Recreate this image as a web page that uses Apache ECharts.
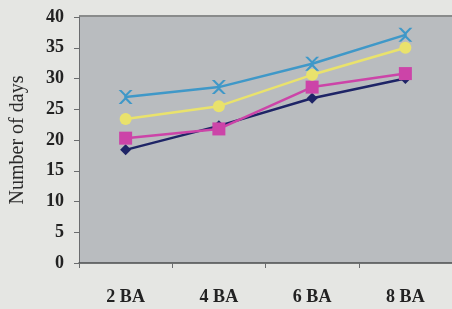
<!DOCTYPE html>
<html>
<head>
<meta charset="utf-8">
<script src="https://cdn.jsdelivr.net/npm/echarts@6/dist/echarts.min.js"></script>
<style>
  html, body { margin: 0; padding: 0; background: #e5e6e3; }
  #main { width: 452px; height: 309px; }
</style>
</head>
<body>
<div id="main"></div>
<script>
var categories = ['2 BA', '4 BA', '6 BA', '8 BA'];
var navyValues = [18.4, 22.3, 26.8, 30.0];
var magentaValues = [20.3, 21.8, 28.6, 30.8];
var yellowValues = [23.4, 25.5, 30.6, 35.0];
var blueValues = [27.0, 28.6, 32.4, 37.1];

var crossSymbol = 'path://M0,0L2,0L5,3L8,0L10,0L6,4.2L6,5.8L10,10L8,10L5,7L2,10L0,10L4,5.8L4,4.2Z';

function lineSeries(name, data, color, symbol, size) {
    return {
        name: name,
        type: 'line',
        data: data,
        symbol: symbol,
        symbolSize: size,
        lineStyle: {color: color, width: 2.5},
        itemStyle: {color: color},
        z: 3
    };
}

var myChart = echarts.init(document.getElementById('main'));

var option = {
    backgroundColor: '#e5e6e3',
    animation: false,
    textStyle: {fontFamily: 'Liberation Serif'},
    grid: {
        left: 79,
        right: 0,
        top: 17,
        bottom: 46,
        show: true,
        backgroundColor: '#b9bcbf',
        borderWidth: 0
    },
    xAxis: {
        type: 'category',
        data: categories,
        boundaryGap: true,
        axisLine: {lineStyle: {color: '#4a4c4e', width: 1.5}},
        axisTick: {show: true, length: 5, lineStyle: {color: '#6a6c6e'}},
        axisLabel: {color: '#222', fontSize: 18, fontWeight: 'bold', margin: 25}
    },
    yAxis: {
        type: 'value',
        min: 0,
        max: 40,
        interval: 5,
        name: 'Number of days',
        nameLocation: 'middle',
        nameGap: 51,
        nameTextStyle: {color: '#2a2a2a', fontSize: 20},
        axisLine: {show: true, lineStyle: {color: '#6a6c6e', width: 1}},
        axisTick: {show: true, length: 5, lineStyle: {color: '#6a6c6e'}},
        axisLabel: {color: '#222', fontSize: 18, fontWeight: 'bold', margin: 15},
        splitLine: {show: false}
    },
    series: [
        lineSeries('navy', navyValues, '#1e2466', 'diamond', 11),
        lineSeries('magenta', magentaValues, '#cc44a8', 'rect', 13),
        lineSeries('yellow', yellowValues, '#e9e26c', 'circle', 12),
        lineSeries('blue', blueValues, '#3f98c8', crossSymbol, 14)
    ]
};

myChart.setOption(option);
// top frame line of plot area
myChart.setOption({
    graphic: [{
        type: 'line',
        shape: {x1: 79, y1: 16, x2: 452, y2: 16},
        style: {stroke: '#6a6c6e', lineWidth: 1.5}
    }]
});
</script>
</body>
</html>
